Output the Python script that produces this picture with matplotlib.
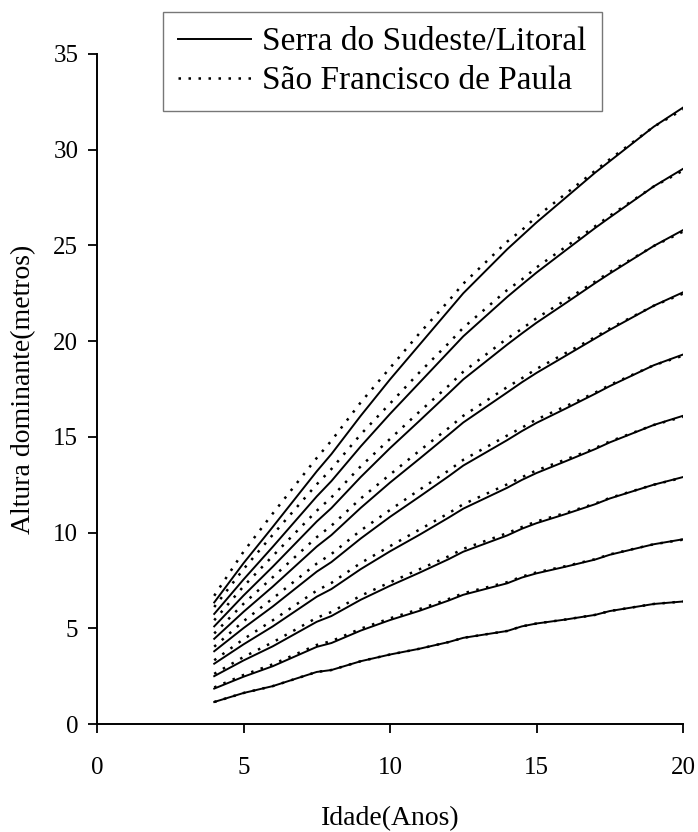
import matplotlib
matplotlib.use("Agg")
import matplotlib.pyplot as plt

plt.rcParams["font.family"] = ["Liberation Serif", "DejaVu Serif"]

# Ages (years) at which the dominant-height curves are tabulated
ages = [4, 5, 6, 7.5, 8, 9, 10, 11, 12, 12.5, 14, 14.5, 15, 16, 17, 17.5, 19, 20]

# Serra do Sudeste/Litoral: dominant height (m), one row per site class
serra_rows = [
    [1.15, 1.62, 1.98, 2.72, 2.82, 3.28, 3.63, 3.93, 4.28, 4.50, 4.86, 5.10, 5.25, 5.46, 5.70, 5.90, 6.27, 6.40],
    [1.85, 2.47, 3.02, 4.03, 4.23, 4.88, 5.43, 5.91, 6.45, 6.75, 7.35, 7.65, 7.87, 8.22, 8.59, 8.84, 9.39, 9.65],
    [2.50, 3.32, 4.06, 5.34, 5.64, 6.49, 7.22, 7.90, 8.61, 9.00, 9.85, 10.20, 10.49, 10.97, 11.48, 11.78, 12.50, 12.90],
    [3.15, 4.16, 5.10, 6.65, 7.05, 8.09, 9.02, 9.88, 10.78, 11.25, 12.34, 12.75, 13.11, 13.73, 14.36, 14.71, 15.62, 16.10],
    [3.80, 5.01, 6.14, 7.96, 8.46, 9.69, 10.82, 11.87, 12.94, 13.50, 14.83, 15.30, 15.73, 16.48, 17.25, 17.65, 18.74, 19.30],
    [4.45, 5.86, 7.18, 9.27, 9.87, 11.29, 12.61, 13.85, 15.11, 15.75, 17.32, 17.85, 18.34, 19.24, 20.14, 20.59, 21.85, 22.55],
    [5.10, 6.71, 8.22, 10.58, 11.28, 12.90, 14.41, 15.83, 17.27, 18.00, 19.82, 20.40, 20.96, 21.99, 23.03, 23.53, 24.97, 25.80],
    [5.75, 7.55, 9.26, 11.89, 12.69, 14.50, 16.20, 17.82, 19.44, 20.25, 22.31, 22.95, 23.58, 24.75, 25.91, 26.46, 28.08, 29.00],
    [6.35, 8.40, 10.30, 13.20, 14.10, 16.10, 18.00, 19.80, 21.60, 22.50, 24.80, 25.50, 26.20, 27.50, 28.80, 29.40, 31.20, 32.20],
]

# São Francisco de Paula: dominant height (m), one row per site class
sfp_rows = [
    [1.15, 1.62, 1.98, 2.72, 2.82, 3.28, 3.63, 3.93, 4.28, 4.50, 4.86, 5.10, 5.25, 5.46, 5.70, 5.90, 6.27, 6.40],
    [1.91, 2.56, 3.12, 4.13, 4.33, 4.98, 5.52, 6.00, 6.53, 6.83, 7.41, 7.70, 7.92, 8.25, 8.61, 8.86, 9.39, 9.63],
    [2.62, 3.50, 4.27, 5.55, 5.85, 6.70, 7.40, 8.08, 8.76, 9.15, 9.97, 10.29, 10.58, 11.03, 11.51, 11.81, 12.50, 12.87],
    [3.33, 4.43, 5.42, 6.97, 7.37, 8.41, 9.29, 10.15, 11.01, 11.48, 12.52, 12.89, 13.25, 13.82, 14.41, 14.76, 15.62, 16.05],
    [4.04, 5.37, 6.56, 8.38, 8.88, 10.11, 11.18, 12.23, 13.24, 13.80, 15.07, 15.48, 15.91, 16.60, 17.31, 17.71, 18.74, 19.24],
    [4.73, 6.28, 7.67, 9.76, 10.36, 11.78, 13.03, 14.27, 15.46, 16.10, 17.60, 18.06, 18.55, 19.38, 20.21, 20.66, 21.85, 22.48],
    [5.42, 7.19, 8.78, 11.14, 11.84, 13.46, 14.89, 16.31, 17.67, 18.40, 20.14, 20.64, 21.20, 22.15, 23.11, 23.61, 24.97, 25.72],
    [6.11, 8.09, 9.89, 12.52, 13.32, 15.13, 16.74, 18.36, 19.89, 20.70, 22.67, 23.22, 23.85, 24.93, 26.00, 26.55, 28.08, 28.91],
    [6.70, 9.00, 11.00, 13.90, 14.80, 16.80, 18.60, 20.40, 22.10, 23.00, 25.20, 25.80, 26.50, 27.70, 28.90, 29.50, 31.20, 32.10],
]

series_labels = ["Serra do Sudeste/Litoral", "São Francisco de Paula"]
x_ticks = [0, 5, 10, 15, 20]
y_ticks = [0, 5, 10, 15, 20, 25, 30, 35]

fig = plt.figure(figsize=(6.98, 8.32), dpi=100)
ax = fig.add_axes([0.139, 0.1298, 0.8395, 0.8053])

dot_style = dict(color="black", lw=1.8, linestyle=(0, (1.0, 3.0)))
solid_style = dict(color="black", lw=1.4, linestyle="-")

for i, row in enumerate(sfp_rows):
    ax.plot(ages, row, label=series_labels[1] if i == 0 else None, **dot_style)
for i, row in enumerate(serra_rows):
    ax.plot(ages, row, label=series_labels[0] if i == 0 else None, **solid_style)

ax.set_xlim(0, 20)
ax.set_ylim(0, 35)
ax.set_xticks(x_ticks)
ax.set_yticks(y_ticks)
ax.tick_params(direction="out", length=6.5, width=1.3, labelsize=18)
ax.tick_params(axis="y", pad=7)
ax.tick_params(axis="x", pad=17)
for side in ("top", "right"):
    ax.spines[side].set_visible(False)
for side in ("left", "bottom"):
    ax.spines[side].set_linewidth(1.4)

ax.set_xlabel("Idade(Anos)", fontsize=20, labelpad=20)
ax.set_ylabel("Altura dominante(metros)", fontsize=20, labelpad=12)

handles, labels = ax.get_legend_handles_labels()
order = [labels.index(series_labels[0]), labels.index(series_labels[1])]
leg = fig.legend([handles[j] for j in order], [labels[j] for j in order],
                 loc="upper left", bbox_to_anchor=(163 / 698, 1 - 12 / 832),
                 fontsize=24, frameon=True, fancybox=False, framealpha=1,
                 edgecolor="#777777", handlelength=2.2, handletextpad=0.33,
                 borderpad=0.45, labelspacing=0.25, borderaxespad=0)
leg.get_frame().set_linewidth(1.0)

fig.savefig("out.png", dpi=100)
